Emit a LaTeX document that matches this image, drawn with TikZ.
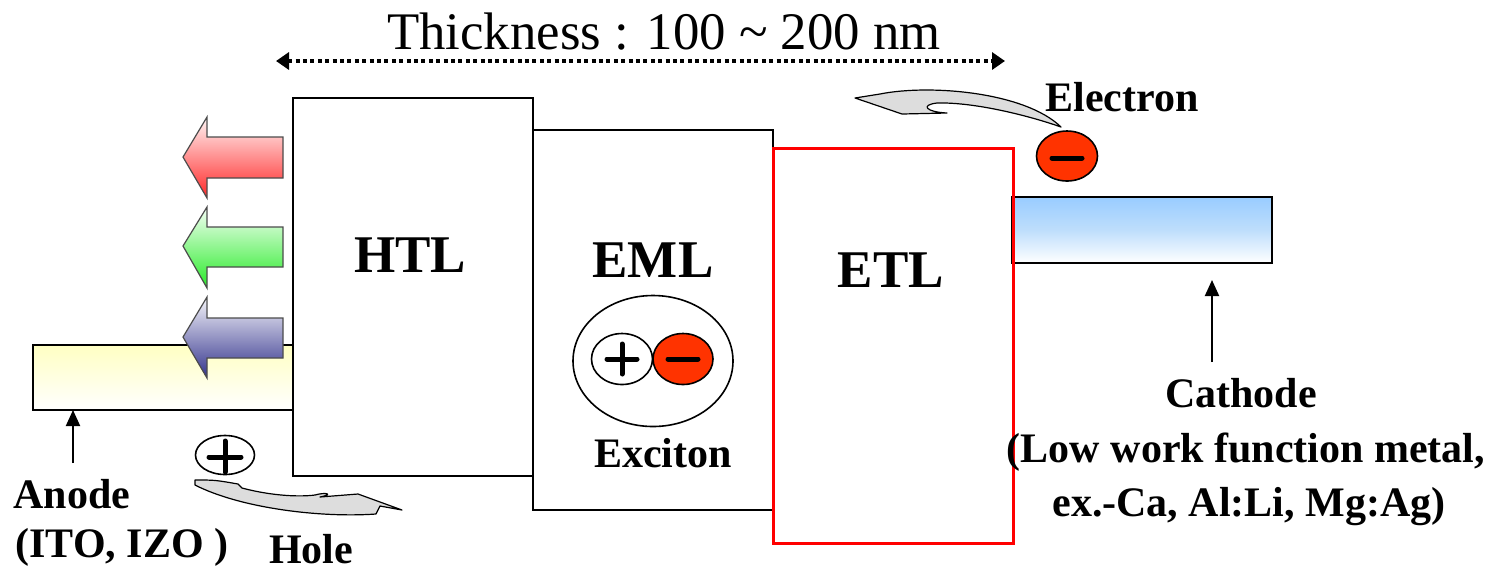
\documentclass[tikz,border=0pt]{standalone}
\usepackage{fontspec}
\setmainfont{Liberation Serif}
\usetikzlibrary{shapes.geometric,arrows.meta}
\definecolor{minusred}{RGB}{255,51,0}
\definecolor{flowgray}{RGB}{221,221,221}
\begin{document}
\begin{tikzpicture}[x=0.5pt,y=-0.5pt,
  layer/.style={draw=black,line width=1pt,inner sep=0pt,outer sep=0pt},
  lbl/.style={font=\fontsize{26.5pt}{30pt}\selectfont\bfseries,inner sep=0pt},
  sml/.style={font=\fontsize{21pt}{24pt}\selectfont\bfseries,inner sep=0pt,anchor=base},
  charge/.style={ellipse,draw=black,line width=0.8pt,inner sep=0pt},
  sign/.style={line width=2.5pt,line cap=round},
  ptr/.style={line width=1pt,-{Triangle[length=8pt,width=7pt]}},
  flow/.style={fill=flowgray,draw=black,line width=0.6pt,line join=round},
  emit/.style={draw=black!70,line width=0.6pt,line join=miter}]
\useasboundingbox (0,0) rectangle (1490,570);

% electrodes
\node[layer,minimum width=130pt,minimum height=32.5pt,top color={rgb,255:red,255;green,255;blue,195},bottom color=white] (anode) at (163,377.5) {};
\node[layer,minimum width=130pt,minimum height=33pt,top color={rgb,255:red,153;green,204;blue,255},bottom color=white,middle color={rgb,255:red,190;green,222;blue,252}] (cathode) at (1142,230) {};

% layers
\node[layer,minimum width=120pt,minimum height=189pt] (htl) at (413,287) {};
\node[layer,minimum width=120pt,minimum height=190pt] (eml) at (653,320) {};
\node[layer,draw=red,line width=1.5pt,minimum width=120pt,minimum height=197.5pt] (etl) at (893,345.5) {};

% emitted light arrows
\path[emit,top color={rgb,255:red,255;green,245;blue,245},bottom color={rgb,255:red,255;green,40;blue,40}]
  (183,157) -- (207,117) -- (207,137) -- (283,137) -- (283,178) -- (207,178) -- (207,198) -- cycle;
\path[emit,top color={rgb,255:red,245;green,255;blue,245},bottom color={rgb,255:red,40;green,235;blue,40}]
  (183,246) -- (207,207) -- (207,227) -- (283,227) -- (283,267) -- (207,267) -- (207,288) -- cycle;
\path[emit,top color={rgb,255:red,245;green,245;blue,250},bottom color={rgb,255:red,50;green,50;blue,140}]
  (183,337) -- (207,297) -- (207,318) -- (283,318) -- (283,358) -- (207,358) -- (207,378) -- cycle;

% labels in layers
\node[lbl] (thtl) at (410,255) {HTL};
\node[lbl] (teml) at (653,260) {EML};
\node[lbl] (tetl) at (891,270) {ETL};

% exciton
\node[ellipse,draw=black,line width=0.8pt,inner sep=0pt,minimum width=80pt,minimum height=65.5pt] (exc) at (653,361) {};
\node[charge,minimum width=30.5pt,minimum height=25.5pt] (ep) at (622,359) {};
\node[charge,fill=minusred,minimum width=30pt,minimum height=25.5pt] (em) at (683,359) {};
\draw[sign] (ep.center) ++(-15,0) -- ++(30,0);
\draw[sign] (ep.center) ++(0,-15) -- ++(0,30);
\draw[sign] (em.center) ++(-15,0) -- ++(30,0);
\node[sml] (texc) at (663,467) {Exciton};

% thickness
\node[font=\fontsize{26.4pt}{30pt}\selectfont,inner sep=0pt] (thick) at (664,32) {Thickness : 100 \textasciitilde\ 200 nm};
\coordinate (th1) at (276,61);
\coordinate (th2) at (1005,61);
\draw[line width=2pt,dash pattern=on 2pt off 1.7pt,{Triangle[length=6.5pt,width=8.5pt]}-{Triangle[length=6.5pt,width=8.5pt]}] (th1) -- (th2);

% electron
\node[charge,fill=minusred,minimum width=30.5pt,minimum height=25pt] (el) at (1067,156) {};
\draw[sign] (el.center) ++(-15,2) -- ++(30,0);
\node[sml] (tel) at (1122,111) {Electron};
\path[flow] (855,98) -- (880,94) .. controls (930,84) and (1025,92) .. (1061,127)
  .. controls (1030,116) and (975,102) .. (937,103) .. controls (920,105) and (926,112) .. (947,113)
  -- (902,114) -- cycle;

% hole
\node[charge,minimum width=29.5pt,minimum height=19.5pt] (ho) at (225,455) {};
\draw[sign] (ho.center) ++(-16,2) -- ++(32,0);
\draw[sign] (ho.center) ++(0,-14) -- ++(0,31);
\node[sml] (thole) at (311,563) {Hole};
\path[flow] (195,480) .. controls (215,480) .. (238,484) -- (242,488)
  .. controls (272,496) and (300,497) .. (315,495) .. controls (325,492) and (335,494) .. (320,497)
  -- (358,494) -- (402,510) -- (380,506) -- (376,514)
  .. controls (320,518) and (240,508) .. (195,485) -- cycle;

% anode label
\node[sml] (tan1) at (72,508) {Anode};
\node[sml] (tan2) at (122,557) {(ITO, IZO )};
\coordinate (aa) at (73,463);
\draw[ptr] (aa) -- (anode.south -| aa);

% cathode label
\node[sml] (tca1) at (1241,407) {Cathode};
\node[sml] (tca2) at (1246,462) {(Low work function metal,};
\node[sml] (tca3) at (1249,516) {ex.-Ca, Al:Li, Mg:Ag)};
\coordinate (ca1) at (1212,362);
\coordinate (ca2) at (1212,280);
\draw[ptr] (ca1) -- (ca2);
\end{tikzpicture}
\end{document}
